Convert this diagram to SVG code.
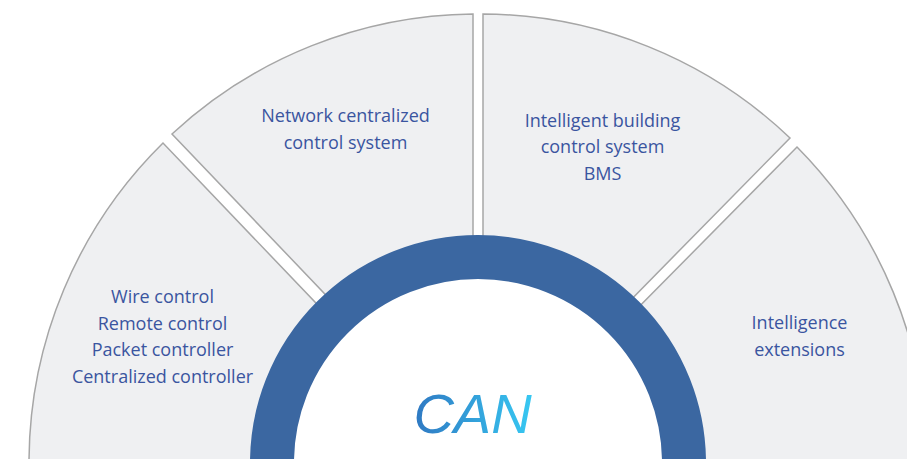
<svg xmlns="http://www.w3.org/2000/svg" width="907" height="459" viewBox="0 0 907 459">
<style>
.seg{fill:#eff0f2;stroke:#a6a6a6;stroke-width:1.5}
.lbl{font-family:"Open Sans","Noto Sans",sans-serif;font-size:18px;fill:#3a55a0;text-anchor:middle}
</style>
<defs>
<linearGradient id="canG" x1="0" y1="0" x2="1" y2="0">
<stop offset="0" stop-color="#2f78c2"/>
<stop offset="1" stop-color="#37c8f2"/>
</linearGradient>
</defs>
<rect width="907" height="459" fill="#ffffff"/>
<g id="seg-wire">
<path class="seg" d="M163,143 A449,449 0 0 0 29,463 L29,475 L278,475 L335,323 Z"/>
<text class="lbl" x="162.5" y="303">Wire control</text>
<text class="lbl" x="162.5" y="330">Remote control</text>
<text class="lbl" x="162.5" y="356">Packet controller</text>
<text class="lbl" x="162.5" y="383">Centralized controller</text>
</g>
<g id="seg-network">
<path class="seg" d="M172,134 A449,449 0 0 1 473,14 L473,263 L344,314 Z"/>
<text class="lbl" x="345.5" y="122">Network centralized</text>
<text class="lbl" x="345.5" y="149">control system</text>
</g>
<g id="seg-bms">
<path class="seg" d="M483,14 A449,449 0 0 1 790,138 L615,316 L483,263 Z"/>
<text class="lbl" x="602.5" y="127">Intelligent building</text>
<text class="lbl" x="602.5" y="153">control system</text>
<text class="lbl" x="602.5" y="180">BMS</text>
</g>
<g id="seg-ext">
<path class="seg" d="M797,147 A449,449 0 0 1 927,463 L927,475 L678,475 L622,324 Z"/>
<text class="lbl" x="799.5" y="329">Intelligence</text>
<text class="lbl" x="799.5" y="356">extensions</text>
</g>
<g id="can">
<circle cx="478" cy="463" r="206" fill="#ffffff" stroke="#3b67a1" stroke-width="44"/>
<text x="472.5" y="433" font-family="Liberation Sans, Arial, sans-serif" font-style="italic" font-size="56" fill="url(#canG)" text-anchor="middle">CAN</text>
</g>
<g id="connectors"></g>
</svg>
